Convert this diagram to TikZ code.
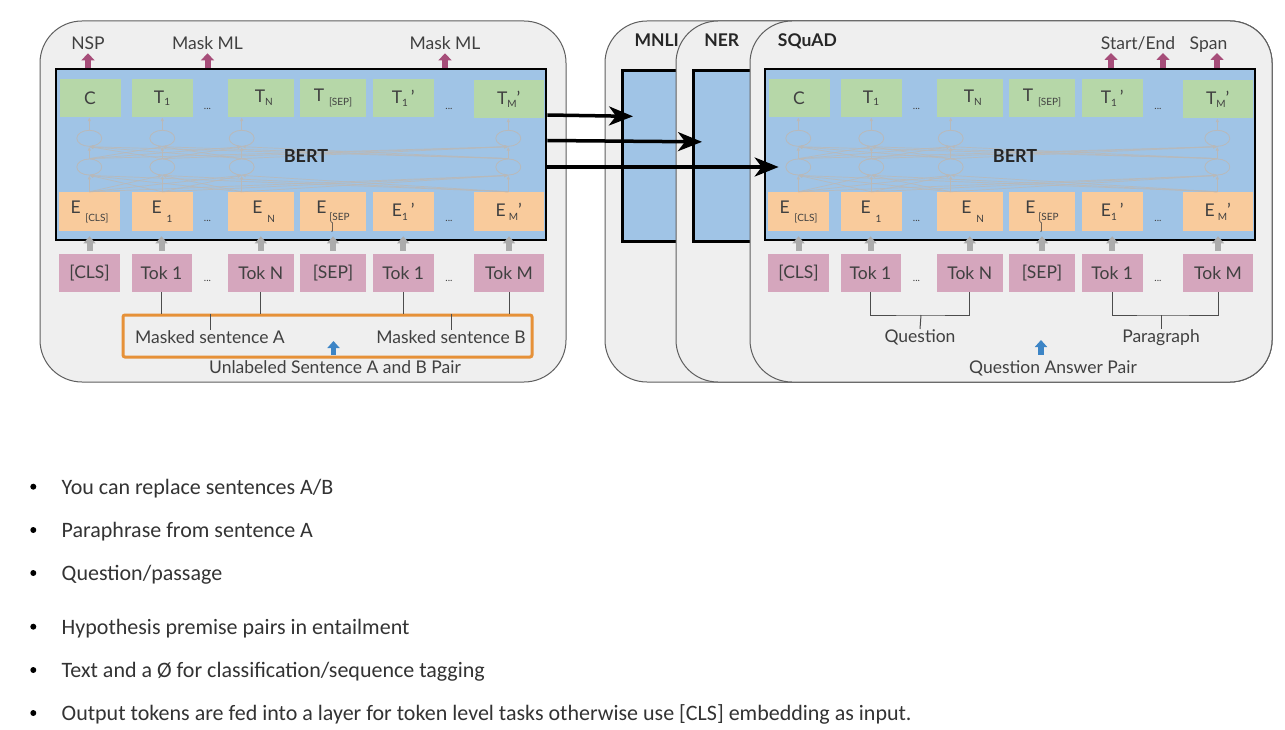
\documentclass[tikz,border=0pt]{standalone}
\usepackage{fontspec}
\setmainfont{Lato}
\newfontfamily\bulletfont{Carlito}
\usetikzlibrary{arrows.meta}
\definecolor{panelfill}{RGB}{239,239,239}
\definecolor{panelline}{RGB}{95,95,95}
\definecolor{bertblue}{RGB}{160,196,230}
\definecolor{greenfill}{RGB}{182,215,168}
\definecolor{orangefill}{RGB}{249,203,156}
\definecolor{pinkfill}{RGB}{213,166,189}
\definecolor{purparrow}{RGB}{166,77,121}
\definecolor{bluearrow}{RGB}{61,133,198}
\definecolor{sentorange}{RGB}{230,145,56}
\definecolor{grayarrow}{RGB}{172,172,172}
\definecolor{xgray}{RGB}{185,185,185}
\definecolor{txt}{RGB}{64,64,64}
\definecolor{btxt}{RGB}{51,51,51}
\newcommand{\lsub}[2]{\raisebox{-#1pt}{\fontsize{10}{10}\selectfont #2}}
\tikzset{
  panel/.style={draw=panelline, fill=panelfill, line width=1pt, rounded corners=42pt},
  bertbox/.style={draw=black, fill=bertblue, line width=2.7pt, inner sep=0pt},
  cell/.style={inner sep=0pt, text=txt, font=\fontsize{17.5}{20}\selectfont},
  gbox/.style={cell, fill=greenfill, minimum height=38pt},
  obox/.style={cell, fill=orangefill, minimum height=39pt},
  pbox/.style={cell, fill=pinkfill, minimum height=38pt},
  dotlbl/.style={inner sep=0pt, text=txt, font=\fontsize{10}{10}\selectfont},
  lbl/.style={inner sep=0pt, text=txt, font=\fontsize{17.5}{20}\selectfont},
  ttl/.style={inner sep=0pt, text=black!85, font=\bfseries\fontsize{17.5}{20}\selectfont},
  bertlbl/.style={inner sep=0pt, text=black!85, font=\bfseries\fontsize{18}{20}\selectfont},
  brsub/.style={inner sep=0pt, text=txt, font=\fontsize{10}{10}\selectfont},
  ell/.style={draw=xgray, line width=0.8pt, ellipse, minimum width=25pt, minimum height=16pt, inner sep=0pt},
  garr/.style={draw=xgray, line width=0.8pt, -{Latex[length=4pt,width=3.5pt]}},
  xline/.style={draw=xgray, line width=0.7pt, opacity=0.9, -{Latex[length=4pt,width=3.5pt]}},
  grayarr/.style={draw=grayarrow, line width=6pt, -{Triangle[length=7pt,width=12pt]}, shorten <=3pt, shorten >=-5pt},
  purparr/.style={draw=purparrow, line width=6pt, -{Triangle[length=7pt,width=13pt]}},
  bluearr/.style={draw=bluearrow, line width=5.5pt, -{Triangle[length=7pt,width=12pt]}, shorten <=5pt},
  conn/.style={draw=black!70, line width=1pt},
  sentbox/.style={draw=sentorange, line width=3pt, rounded corners=2pt, inner sep=0pt},
  bigarr/.style={draw=black, line width=3.5pt, -{Stealth[length=24pt,width=19pt,inset=7pt]}},
  bdot/.style={circle, fill=black, inner sep=0pt, minimum size=6pt},
  btext/.style={inner sep=0pt, anchor=base west, text=btxt, font=\bulletfont\fontsize{22}{24}\selectfont}
}
\usetikzlibrary{shapes.geometric}
\begin{document}
\begin{tikzpicture}[x=1pt,y=-1pt]
\useasboundingbox (0,0) rectangle (1285,730);
\fill[white] (0,0) rectangle (1285,730);

% panels
\draw[panel] (40,21) rectangle (566,382);
\draw[panel] (605,21) rectangle (1272,382);
\node[bertbox, anchor=north west, minimum width=634pt, minimum height=171pt] (mnli) at (621,69) {};
\draw[panel] (676,21) rectangle (1272,382);
\node[bertbox, anchor=north west, minimum width=563pt, minimum height=171pt] (ner) at (692,69) {};
\draw[panel] (750,21) rectangle (1272,382);

\node[ttl, anchor=base] (mnlit) at (656.7,47) {MNLI};
\node[ttl, anchor=base] (nert) at (721.7,47) {NER};
\node[ttl, anchor=base] (squadt) at (807.4,47) {SQuAD};

% two BERT blocks
\foreach \P/\dx in {L/0,R/709}{
\begin{scope}[xshift=\dx pt]
  \node[bertbox, minimum width=490pt, minimum height=171pt] (\P-bert) at (301,154.5) {};
  % output row
  \node[gbox, minimum width=61pt] (\P-C) at (90,98) {C};
  \node[gbox, minimum width=61pt] (\P-T1) at (162,98) {T\lsub{2}{1}};
  \node[gbox, minimum width=66.5pt] (\P-TN) at (260.75,98) {\hspace{6pt}T\lsub{3}{N}};
  \node[gbox, minimum width=66pt] (\P-TSEP) at (333,98) {T\;\lsub{4}{[SEP]}};
  \node[gbox, minimum width=61.5pt] (\P-T1p) at (403.25,98) {T\lsub{3}{1}\,’};
  \node[gbox, minimum width=69.5pt] (\P-TMp) at (508.75,99) {T\lsub{3}{M}’};
  \node[dotlbl] (\P-dg1) at (207.5,109) {...};
  \node[dotlbl] (\P-dg2) at (449,109) {...};
  % embedding row
  \node[obox, minimum width=60.5pt] (\P-EC) at (89.5,211.5) {E\;\lsub{8}{[CLS]}};
  \node[obox, minimum width=61pt] (\P-E1) at (162,211.5) {E\;\lsub{9}{1}};
  \node[obox, minimum width=66.5pt] (\P-EN) at (260.75,211.5) {\hspace{6pt}E\;\lsub{9}{N}};
  \node[obox, minimum width=66pt] (\P-ESEP) at (333,211.5) {E\,\lsub{7}{[SEP}};
  \node[brsub] (\P-sepbr) at (332.5,227.5) {]};
  \node[obox, minimum width=61.5pt] (\P-E1p) at (403.25,211.5) {E\lsub{4}{1}\,’};
  \node[obox, minimum width=69.5pt] (\P-EMp) at (508.75,211.5) {E\,\lsub{4}{M}’};
  \node[dotlbl] (\P-do1) at (207.5,221) {...};
  \node[dotlbl] (\P-do2) at (449,221) {...};
  % token row
  \node[pbox, minimum width=61pt] (\P-pC) at (89.5,273) {[CLS]};
  \node[pbox, minimum width=60pt] (\P-p1) at (161.5,273) {Tok 1};
  \node[pbox, minimum width=66.5pt] (\P-pN) at (260.75,273) {Tok N};
  \node[pbox, minimum width=66pt] (\P-pSEP) at (333,273) {[SEP]};
  \node[pbox, minimum width=61pt] (\P-p1p) at (403.25,273) {Tok 1};
  \node[pbox, minimum width=70pt] (\P-pMp) at (509,273) {Tok M};
  \node[dotlbl] (\P-dp1) at (207.5,281) {...};
  \node[dotlbl] (\P-dp2) at (449,281) {...};
  % transformer ellipses
  \foreach \i/\ex in {1/89.3,2/162.3,3/241.7,4/508.3}{
    \node[ell] (\P-u\i) at (\ex,138.3) {};
    \node[ell] (\P-d\i) at (\ex,167) {};
  }
  \foreach \i/\g in {1/C,2/T1,3/TN,4/TMp}{
    \draw[garr] (\P-u\i.north) -- (\P-u\i.north |- \P-\g.south);
    \draw[garr] (\P-d\i.north) -- (\P-u\i.south);
    \draw[garr] (\P-d\i.south |- \P-EC.north) -- (\P-d\i.south);
  }
  \foreach \i in {1,...,4}{
    \foreach \j in {1,...,4}{
      \ifnum\i=\j\relax\else
        \draw[xline] (\P-d\i.north) -- (\P-u\j.south);
        \draw[xline] (\P-d\i.south |- \P-EC.north) -- (\P-d\j.south);
      \fi
    }
  }
  \node[bertlbl] (\P-lbl) at (306,156) {BERT};
  % input arrows
  \foreach \c in {pC,p1,pN,pSEP,p1p,pMp}{
    \draw[grayarr] (\P-\c.north) -- (\P-\c.north |- \P-bert.south);
  }
\end{scope}
}

% left outputs
\node[lbl, anchor=base] (L-nsp) at (88,49.5) {NSP};
\node[lbl, anchor=base] (L-mml1) at (207.5,49.5) {Mask ML};
\node[lbl, anchor=base] (L-mml2) at (445,49.5) {Mask ML};
\foreach \n in {nsp,mml1,mml2}{
  \draw[purparr, shorten >=3.5pt] (L-\n.south |- L-bert.north) -- (L-\n.south);
}

% right outputs
\node[lbl, anchor=base] (R-se) at (1138,49.5) {Start/End};
\node[lbl, anchor=base] (R-span) at (1208.5,49.5) {Span};
\coordinate (R-a1) at (1111,53);
\coordinate (R-a2) at (1163,53);
\coordinate (R-a3) at (1217,53);
\foreach \n in {a1,a2,a3}{
  \draw[purparr] (R-\n |- R-bert.north) -- (R-\n);
}

% left bottom
\node[sentbox, minimum width=409pt, minimum height=42pt] (L-sent) at (327.5,336) {};
\node[lbl, anchor=base] (L-mA) at (210,343) {Masked sentence A};
\node[lbl, anchor=base] (L-mB) at (451,343) {Masked sentence B};
\node[lbl, anchor=base] (L-unl) at (335,373) {Unlabeled Sentence A and B Pair};
\foreach \c in {p1,pN,p1p,pMp}{
  \draw[conn] (L-\c.south) -- (L-\c.south |- L-sent.north);
}
\draw[conn] (L-mA.north |- L-sent.north) -- (L-mA.north);
\draw[conn] (L-mB.north |- L-sent.north) -- (L-mB.north);
\coordinate (L-bt) at (333.5,341);
\draw[bluearr] (L-unl.north -| L-bt) -- (L-bt);

% right bottom
\node[lbl, anchor=base] (R-q) at (920,342) {Question};
\node[lbl, anchor=base] (R-par) at (1161,342) {Paragraph};
\node[lbl, anchor=base] (R-qap) at (1053,373) {Question Answer Pair};
\coordinate (R-qj) at (921,315);
\coordinate (R-pj) at (1161,315);
\draw[conn] (R-p1.south) |- (R-qj) -| (R-pN.south);
\draw[conn] (R-qj) -- (R-q.north);
\draw[conn] (R-p1p.south) |- (R-pj) -| (R-pMp.south);
\draw[conn] (R-pj) -- (R-par.north);
\coordinate (R-bt) at (1041,340);
\draw[bluearr] (R-qap.north -| R-bt) -- (R-bt);

% transfer arrows
\draw[bigarr] ([yshift=39.5pt]L-bert.east) -- ([xshift=12pt,yshift=39.5pt]mnli.west);
\draw[bigarr] ([yshift=14pt]L-bert.east) -- ([xshift=10pt,yshift=14pt]ner.west);
\draw[bigarr] ([yshift=-12.5pt]L-bert.east) -- ([xshift=15pt,yshift=-12.5pt]R-bert.west);

% bullets
\node[bdot] (bd1) at (33.3,486.7) {};
\node[btext] (bt1) at (61.5,494) {You can replace sentences A/B};
\node[bdot] (bd2) at (33.3,530) {};
\node[btext] (bt2) at (61.5,537.3) {Paraphrase from sentence A};
\node[bdot] (bd3) at (33.3,573) {};
\node[btext] (bt3) at (61.5,580.3) {Question/passage};
\node[bdot] (bd4) at (33.3,626.7) {};
\node[btext] (bt4) at (61.5,634) {Hypothesis premise pairs in entailment};
\node[bdot] (bd5) at (33.3,670) {};
\node[btext] (bt5) at (61.5,677.3) {Text and a Ø for classification/sequence tagging};
\node[bdot] (bd6) at (33.3,713) {};
\node[btext] (bt6) at (61.5,720.3) {Output tokens are fed into a layer for token level tasks otherwise use [CLS] embedding as input.};
\end{tikzpicture}
\end{document}
